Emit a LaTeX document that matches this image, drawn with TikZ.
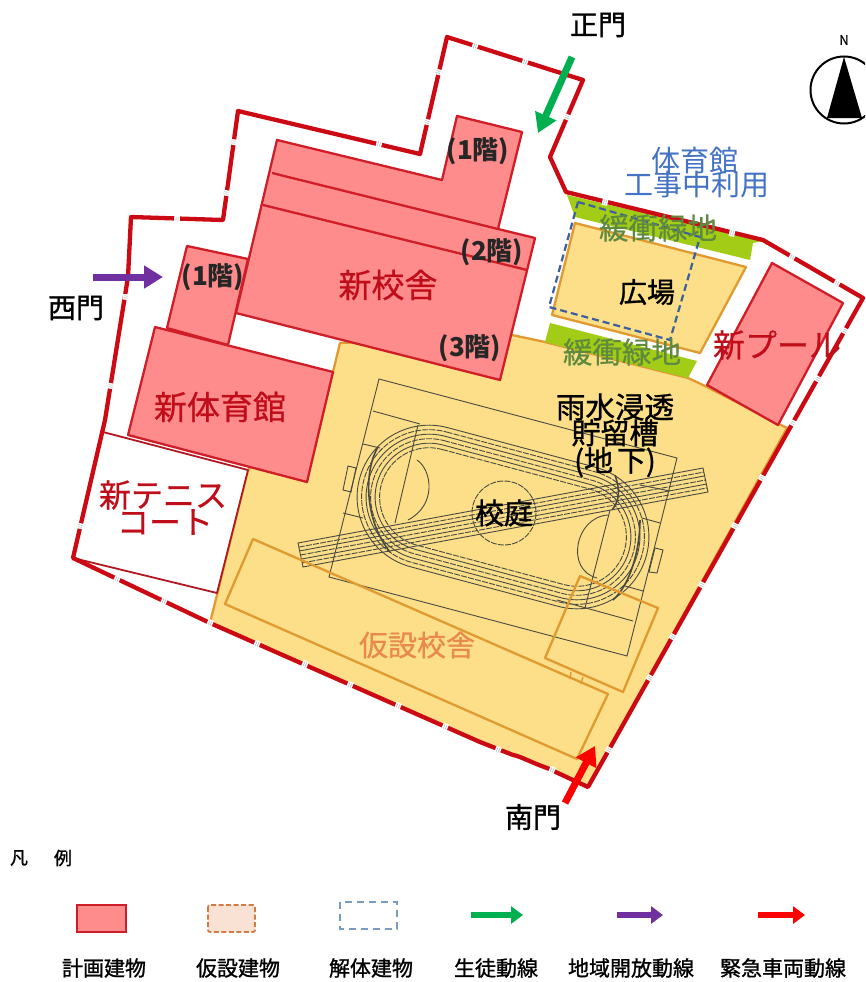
\documentclass[tikz,border=0pt]{standalone}
\usepackage{fontspec}
\setmainfont{Noto Sans CJK JP}
\newfontfamily\medf[FakeBold=1.1]{Noto Sans CJK JP}
\newfontfamily\semf[FakeBold=0.6]{Noto Sans CJK JP}
\usetikzlibrary{arrows.meta,calc}
\definecolor{bnd}{HTML}{CC0A14}
\definecolor{bldfill}{HTML}{FF8C8C}
\definecolor{bldline}{HTML}{CF1E28}
\definecolor{grd}{HTML}{FCDF88}
\definecolor{org}{HTML}{E09A30}
\definecolor{grn}{HTML}{A2CC16}
\definecolor{dblue}{HTML}{3E5F9E}
\definecolor{trk}{HTML}{4A4A42}
\definecolor{redtxt}{HTML}{C00D1A}
\definecolor{bluetxt}{HTML}{4472C4}
\definecolor{grntxt}{HTML}{5F8A3E}
\definecolor{orgtxt}{HTML}{E8894E}
\definecolor{arrG}{HTML}{00B050}
\definecolor{arrP}{HTML}{7030A0}
\definecolor{arrR}{HTML}{FF0000}
\definecolor{legblue}{HTML}{7A9CC0}
\tikzset{
  x=1pt,y=-1pt,
  bld/.style={fill=bldfill,draw=bldline,line width=2.3pt,line join=round},
  bldrule/.style={draw=bldline,line width=2.3pt},
  orgline/.style={draw=org,line width=2.3pt,line join=round},
  track/.style={draw=trk,line width=0.9pt},
  dashtrack/.style={draw=trk,line width=0.9pt,dash pattern=on 6pt off 1.2pt},
  boundary/.style={draw=bnd,line width=4.3pt,line join=round},
  txt/.style={inner sep=0pt,align=center},
  blk/.style={txt,text=black,font=\medf\fontsize{#1}{#1}\selectfont},
  redl/.style={txt,text=redtxt,font=\semf\fontsize{#1}{#1}\selectfont},
  blu/.style={txt,text=bluetxt,font=\fontsize{#1}{#1}\selectfont},
  grt/.style={txt,text=grntxt,font=\semf\fontsize{#1}{#1}\selectfont},
  org2/.style={txt,text=orgtxt,font=\semf\fontsize{#1}{#1}\selectfont},
  flr/.style={txt,text=black!85,font=\bfseries\fontsize{26}{26}\selectfont},
  leg/.style={txt,text=black,font=\medf\fontsize{21}{21}\selectfont},
  blockarrow/.style={draw=#1,line width=7pt,-{Triangle[length=19pt,width=22pt]}},
  legarrow/.style={draw=#1,line width=5.5pt,-{Triangle[length=12pt,width=17pt]}},
  brk/.pic={
    \fill[white] (-2.8,-3.4) rectangle (2.8,3.4);
    \draw[black!30,line width=0.5pt] (-1,-2.2)--(-1,2.2) (1,-2.2)--(1,2.2);
  }
}
\begin{document}
\begin{tikzpicture}
\useasboundingbox (0,0) rectangle (865,982);
\fill[white] (0,0) rectangle (865,982);

% ground
\path[fill=grd,orgline] (340,343) -- (512,335) -- (545,342) -- (688,378) -- (703,385) -- (787,428)
  -- (588,787) -- (547,768) .. controls (530,762) and (520,756) .. (513,755) -- (480,742) -- (210,623)
  -- (248,470) -- (333,372) -- cycle;

% green buffers
\fill[grn] (567,195) -- (763,241) -- (753,243) -- (750,260) -- (575,217) -- cycle;
\fill[grn] (550,323) -- (697,361) -- (688,378) -- (545,342) -- cycle;

% plaza
\path[fill=grd,orgline] (575,223) -- (746,267) -- (700,353) -- (552,315) -- cycle;

% sports field
\draw[track] (379,379) -- (677,458) -- (627,656) -- (329,577) -- cycle;
\draw[track] (373,411) -- (420,424) (640,485) -- (670,491);
\draw[track] (363,444) -- (380,448) (343,513) -- (363,518);
\draw[track] (642,518) -- (660,523) (625,586) -- (643,591);
\draw[track] (557,600) -- (633,621);
\draw[track] (348,466) -- (356,468) -- (351,492) -- (343,490) -- cycle;
\draw[track] (655,548) -- (663,550) -- (657,573) -- (649,572) -- cycle;
% lanes
\begin{scope}[shift={(503,517)},rotate=-15]
  \foreach \r/\st in {72/track,67.5/dashtrack,63/track,58.5/dashtrack,54/track,49.5/dashtrack}{
    \draw[\st] (-76.5,-\r) -- (76.5,-\r) arc[start angle=-90,end angle=90,radius=\r]
      -- (-76.5,\r) arc[start angle=90,end angle=270,radius=\r] -- cycle;
  }
\end{scope}
% crossing strip
\coordinate (sa) at (298,543); \coordinate (sb) at (703,468);
\coordinate (sc) at (708,492); \coordinate (sd) at (303,567);
\draw[track] (sa) -- (sb) -- (sc) -- (sd) -- cycle;
\foreach \f/\st in {0.17/dashtrack,0.33/track,0.5/dashtrack,0.67/track,0.83/dashtrack}{
  \draw[\st] ($(sa)!\f!(sd)$) -- ($(sb)!\f!(sc)$);
}
% chords and arcs
\draw[track] (418,425) -- (395,523) (610,510) -- (585,608);
\draw[track] (417,460) .. controls (432,470) and (437,505) .. (408,520);
\draw[track] (608,515) .. controls (575,517) and (565,570) .. (597,578);
\draw[dashtrack] (504,513) circle[radius=32];
\draw[track,line width=1.6pt] (378,447) .. controls (364,470) and (364,520) .. (390,552);
\draw[track,line width=1.6pt] (640,520) .. controls (640,550) and (630,585) .. (613,600);
\draw[track,line width=1.6pt] (615,475) .. controls (620,490) and (620,500) .. (612,510);

% temporary buildings
\draw[orgline] (253,539) -- (608,694) -- (577,759) -- (225,604) -- cycle;
\draw[orgline] (580,576) -- (658,608) -- (623,692) -- (545,658) -- cycle;
\draw[org,line width=1.4pt] (571,672) -- (570,679) (583,677) -- (581,684);

% tennis
\path[fill=white,draw=bldline!85!black,line width=1.8pt,line join=round] (103,432) -- (248,470) -- (217,593) -- (73,558) -- cycle;
% planned buildings
\path[bld] (187,246) -- (248,259) -- (228,345) -- (167,328) -- cycle;
\path[bld] (155,327) -- (333,372) -- (307,482) -- (128,435) -- cycle;
\path[bld] (277,140) -- (442,180) -- (457,116) -- (522,132) -- (498,229) -- (535,238) -- (500,380) -- (236,313) -- cycle;
\draw[bldrule] (272,173) -- (498,229);
\draw[bldrule] (263,205) -- (527,270);
\path[bld] (772,263) -- (843,303) -- (778,425) -- (707,385) -- cycle;

% blue dashed
\draw[dblue,line width=2.2pt,dash pattern=on 7pt off 4pt,line join=round] (578,202) -- (700,237) -- (670,340) -- (549,307) -- cycle;

% site boundary
\path[boundary] (447,37) -- (583,80) -- (550,157) -- (566,192) -- (763,240) -- (863,298) -- (588,787)
  -- (547,768) .. controls (530,762) and (520,756) .. (513,755) -- (480,742) -- (210,623) -- (73,558)
  -- (105,420) -- (128,277) -- (131,217) -- (223,220) -- (238,111) -- (420,154) -- cycle;
\foreach \x/\y/\a in {475/46/-17.5,525/62/-17.5,567/117/66.8,605/202/-13.7,732/233/-13.7,
  792/257/-30,837/283/-30,845/331/60.6,818/379/60.6,793/423/60.6,762/478/60.6,735/526/60.6,
  702/585/60.6,673/637/60.6,650/678/60.6,609/750/60.6,
  552/770/-23.5,498/750/-23.5,445/727/-23.5,398/706/-23.5,350/685/-23.5,305/664/-23.5,257/644/-23.5,210/623/-23.5,
  164/601/-25,117/579/-25,
  80/526/77,111/386/81,126/297/84,177/219/-2,
  226/193/82,233/142/82,379/144/-13,427/122/77,438/72/77}{
  \pic[rotate=\a] at (\x,\y) {brk};
}

% arrows
\coordinate (ga) at (572,57); \coordinate (gb) at (538,133);
\draw[blockarrow=arrG] (ga) -- (gb);
\coordinate (pa) at (93,277); \coordinate (pb) at (163,277);
\draw[blockarrow=arrP] (pa) -- (pb);
\coordinate (ra) at (565,803); \coordinate (rb) at (595,746);
\draw[blockarrow=arrR] (ra) -- (rb);

% compass
\begin{scope}
\clip (0,0) rectangle (865,982);
\draw[black,line width=2pt] (844,90) circle[radius=33.5];
\fill[black] (844,57) -- (862,118) -- (827,118) -- cycle;
\end{scope}
\node[txt,font=\semf\fontsize{13}{13}\selectfont] (north) at (844,40) {N};

% labels
\node[blk=28] (t1) at (598,25) {正門};
\node[blk=28] (t2) at (76,308) {西門};
\node[blk=28] (t3) at (533,817) {南門};
\node[flr] (f1) at (478,151) {(1階)};
\node[flr] (f2) at (213,277) {(1階)};
\node[flr] (f3) at (492,252) {(2階)};
\node[flr] (f4) at (470,348) {(3階)};
\node[redl=33] (n1) at (388,285) {新校舎};
\node[redl=33] (n2) at (220,407) {新体育館};
\node[redl=32] (n3) at (163,495) {新テニス};
\node[redl=32] (n4) at (165,522) {コート};
\node[redl=32] (n5) at (777,345) {新プール};
\node[blu=29] (b1) at (695,160) {体育館};
\node[blu=29] (b2) at (697,185) {工事中利用};
\node[grt=29.5] (g1) at (658,228) {緩衝緑地};
\node[grt=29.5] (g2) at (622,352) {緩衝緑地};
\node[blk=28] (k1) at (647,292) {広場};
\node[blk=29.5] (r1) at (615,407) {雨水浸透};
\node[blk=29] (r2) at (615,433) {貯留槽};
\node[blk=29] (r3) at (615,462) {(地\hspace{4pt}下)};
\node[blk=29] (k2) at (504,513) {校庭};
\node[org2=29] (o1) at (417,645) {仮設校舎};

% legend
\node[txt,font=\medf\fontsize{18}{18}\selectfont] (l0a) at (19,858) {凡};
\node[txt,font=\medf\fontsize{18}{18}\selectfont] (l0b) at (63,858) {例};
\draw[fill=bldfill,draw=bldline,line width=2.2pt] (77,905) rectangle (126,932);
\draw[fill=orgtxt!25,draw=orgtxt!90!black,line width=1.8pt,dash pattern=on 5pt off 2.5pt,rounded corners=2pt] (208,905) rectangle (255,932);
\draw[draw=legblue,line width=1.8pt,dash pattern=on 7pt off 5pt] (340,902) rectangle (397,929);
\coordinate (la1) at (471,915); \coordinate (lb1) at (523,915);
\draw[legarrow=arrG] (la1) -- (lb1);
\coordinate (la2) at (617,915); \coordinate (lb2) at (663,915);
\draw[legarrow=arrP] (la2) -- (lb2);
\coordinate (la3) at (758,915); \coordinate (lb3) at (805,915);
\draw[legarrow=arrR] (la3) -- (lb3);
\node[leg] (l1) at (104,968) {計画建物};
\node[leg] (l2) at (238,968) {仮設建物};
\node[leg] (l3) at (371,968) {解体建物};
\node[leg] (l4) at (496,968) {生徒動線};
\node[leg] (l5) at (631,968) {地域開放動線};
\node[leg] (l6) at (783,968) {緊急車両動線};
\end{tikzpicture}
\end{document}
